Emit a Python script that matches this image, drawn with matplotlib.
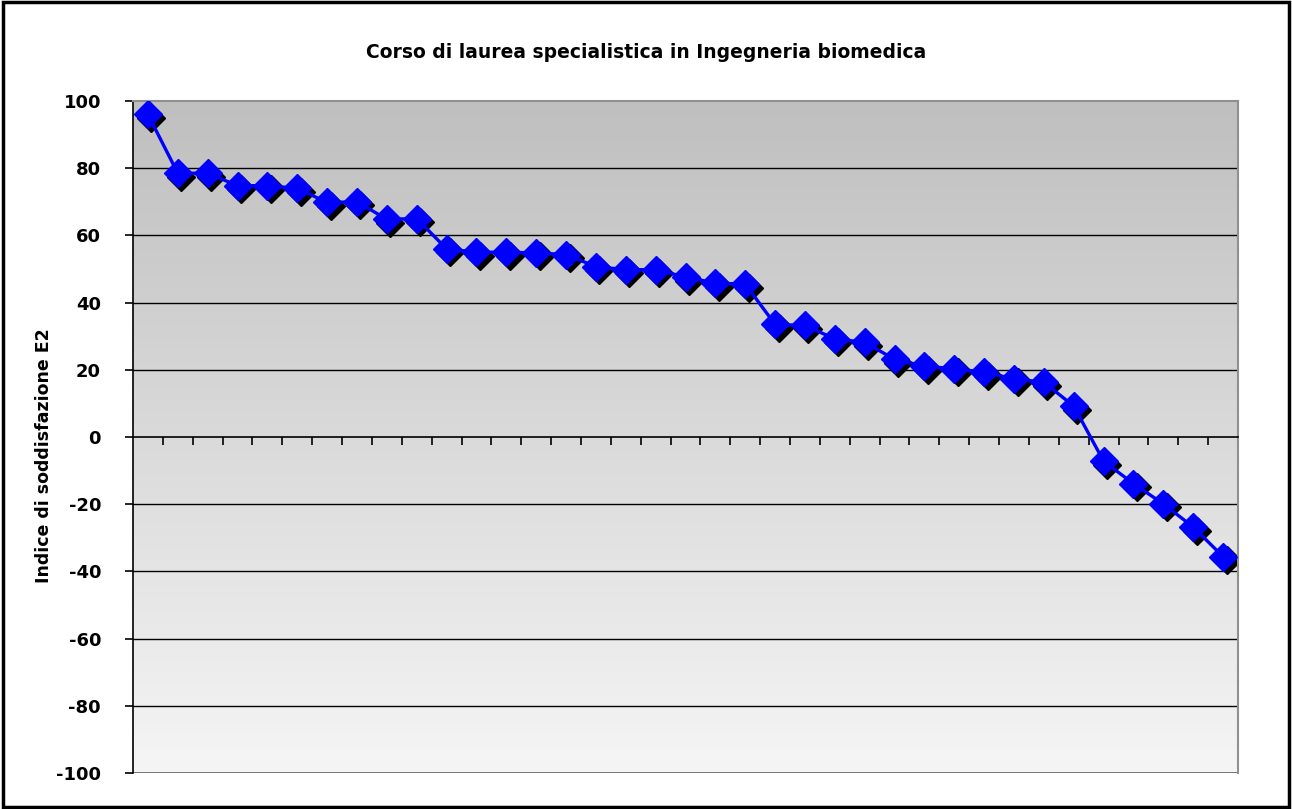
import numpy as np
import matplotlib
matplotlib.use("Agg")
from matplotlib import pyplot as plt
from matplotlib import transforms as mtransforms
from matplotlib.patches import Rectangle

# values (one point per course unit)
valori = [96, 78.5, 78.5, 74.8, 74.8, 74, 69.8, 70, 64.8, 65,
          56, 55, 55, 54.8, 54.3, 50.7, 49.8, 49.8, 47.6, 45.8,
          45.5, 33.5, 33.2, 29.2, 28.2, 23.1, 21.1, 20.3, 19.3, 17.3,
          16.3, 9.2, -7.2, -13.9, -19.9, -26.8, -35.6]
y_ticks = [-100, -80, -60, -40, -20, 0, 20, 40, 60, 80, 100]
titolo = 'Corso di laurea specialistica in Ingegneria biomedica'
etichetta_y = 'Indice di soddisfazione E2'

plt.rcParams['font.family'] = ['DejaVu Sans']

fig = plt.figure(figsize=(12.92, 8.09), dpi=100)
ax = fig.add_axes([133 / 1292, 1 - 773 / 809, (1238 - 133) / 1292, (773 - 101) / 809])

n = len(valori)
x = np.arange(1, n + 1)

# gradient background of the plot area (dark on top, light at bottom)
grad = np.linspace(0, 1, 256).reshape(-1, 1)
cmap = matplotlib.colors.LinearSegmentedColormap.from_list('g', ['#bfbfbf', '#f5f5f5'])
ax.imshow(grad, cmap=cmap, aspect='auto', extent=[0.5, n + 0.5, -100, 100],
          zorder=0, origin='upper')
ax.set_xlim(0.5, n + 0.5)
ax.set_ylim(-100, 100)

# gridlines
for t in y_ticks:
    if t not in (0, 100, -100):
        ax.axhline(t, color='black', lw=1.0, zorder=1)
ax.axhline(-100, color='#606060', lw=1.2, zorder=1)

# shadow then markers
shadow = ax.transData + mtransforms.ScaledTranslation(3.5 / 100, -3.5 / 100, fig.dpi_scale_trans)
ax.plot(x, valori, 'D', color='black', ms=14, mec='black', transform=shadow, zorder=2)
ax.plot(x, valori, '-', color='#0000ff', lw=2.4, zorder=3)
ax.plot(x, valori, 'D', color='#0000ff', ms=14, mec='#0000ff', zorder=4)

# axes styling
for s in ['top', 'right']:
    ax.spines[s].set_color('#909090')
    ax.spines[s].set_linewidth(1.5)
ax.spines['left'].set_color('black')
ax.spines['left'].set_linewidth(1.2)
ax.spines['bottom'].set_position(('data', 0))
ax.spines['bottom'].set_color('black')
ax.spines['bottom'].set_linewidth(1.2)

ax.set_xticks(np.arange(1.5, n + 0.5, 1))
ax.set_xticklabels([])
ax.tick_params(axis='x', direction='out', length=6, width=1.2, color='black')
ax.set_yticks(y_ticks)
ax.set_yticklabels([str(t) for t in y_ticks], fontsize=13, fontweight='bold')
ax.tick_params(axis='y', direction='out', length=6, width=1.2, pad=17)

ax.set_ylabel(etichetta_y, fontsize=12.5, fontweight='bold')
ax.yaxis.set_label_coords(-0.072, 0.472)
fig.text(0.5, 1 - 52 / 809, titolo, ha='center', va='center', fontsize=13.5, fontweight='bold')

# outer frame
fig.patches.append(Rectangle((0.002, 0.003), 0.996, 0.994, transform=fig.transFigure,
                             fill=False, edgecolor='black', lw=2.5))

fig.savefig('out.png', dpi=100)
